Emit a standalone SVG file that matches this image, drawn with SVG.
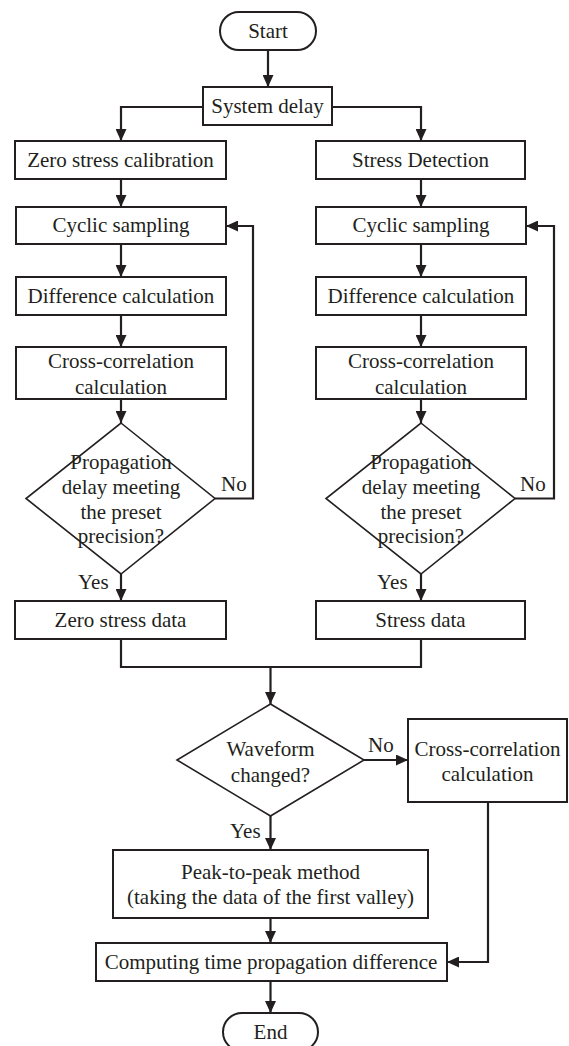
<svg xmlns="http://www.w3.org/2000/svg" width="569" height="1046" viewBox="0 0 569 1046" font-family="Liberation Serif, DejaVu Serif, serif" font-size="21">
<style>
.box{fill:#fff;stroke:#231f20;stroke-width:2}
.dia{fill:#fff;stroke:#231f20;stroke-width:1.6}
text{fill:#231f20}
.t{text-anchor:middle}
.c{fill:none;stroke:#231f20;stroke-width:2.2}
</style>
<defs>
<marker id="ah" viewBox="0 0 12 11" refX="12" refY="5.5" markerWidth="12" markerHeight="11" markerUnits="userSpaceOnUse" orient="auto">
<path d="M0,0 L12,5.5 L0,11 Z" fill="#231f20"/>
</marker>
</defs>
<g id="connectors">
<path class="c" d="M268,50 V87" marker-end="url(#ah)"/>
<path class="c" d="M203,107 H121 V141" marker-end="url(#ah)"/>
<path class="c" d="M332,107 H421 V141" marker-end="url(#ah)"/>
<path class="c" d="M121,179 V207" marker-end="url(#ah)"/>
<path class="c" d="M121,244 V277" marker-end="url(#ah)"/>
<path class="c" d="M121,315 V347" marker-end="url(#ah)"/>
<path class="c" d="M121,399 V423" marker-end="url(#ah)"/>
<path class="c" d="M121,574 V601" marker-end="url(#ah)"/>
<path class="c" d="M215,498.5 H253 V226 H226" marker-end="url(#ah)"/>
<path class="c" d="M421,179 V207" marker-end="url(#ah)"/>
<path class="c" d="M421,244 V277" marker-end="url(#ah)"/>
<path class="c" d="M421,315 V347" marker-end="url(#ah)"/>
<path class="c" d="M421,399 V423" marker-end="url(#ah)"/>
<path class="c" d="M421,574 V601" marker-end="url(#ah)"/>
<path class="c" d="M515,498.5 H554 V226 H526" marker-end="url(#ah)"/>
<path class="c" d="M121,639 V667 H421 V639"/>
<path class="c" d="M270.5,667 V704" marker-end="url(#ah)"/>
<path class="c" d="M364,760 H408" marker-end="url(#ah)"/>
<path class="c" d="M270.5,816 V850" marker-end="url(#ah)"/>
<path class="c" d="M270.5,918 V943" marker-end="url(#ah)"/>
<path class="c" d="M488,802 V962 H447" marker-end="url(#ah)"/>
<path class="c" d="M270.5,981 V1013" marker-end="url(#ah)"/>
<text x="221" y="491">No</text>
<text x="520" y="491">No</text>
<text x="78" y="589">Yes</text>
<text x="377" y="589">Yes</text>
<text x="368" y="752">No</text>
<text x="230" y="838">Yes</text>
</g>
<g id="start"><rect class="box" x="220" y="12" width="96" height="38" rx="19"/><text class="t" x="268" y="38">Start</text></g>
<g id="system-delay"><rect class="box" x="203" y="87" width="129" height="38"/><text class="t" x="267.5" y="113">System delay</text></g>
<g id="zero-stress-calibration"><rect class="box" x="15" y="141" width="211" height="38"/><text class="t" x="120.5" y="167">Zero stress calibration</text></g>
<g id="cyclic-sampling-left"><rect class="box" x="16" y="207" width="210" height="37"/><text class="t" x="121" y="232">Cyclic sampling</text></g>
<g id="difference-left"><rect class="box" x="16" y="277" width="210" height="38"/><text class="t" x="121" y="303">Difference calculation</text></g>
<g id="crosscorr-left"><rect class="box" x="16" y="347" width="210" height="52"/><text class="t" x="121" y="368">Cross-correlation</text><text class="t" x="121" y="394">calculation</text></g>
<g id="decision-left"><polygon class="dia" points="121,423 215,498.5 121,574 26,498.5"/><text class="t" x="121" y="469">Propagation</text><text class="t" x="121" y="494">delay meeting</text><text class="t" x="121" y="519">the preset</text><text class="t" x="121" y="543">precision?</text></g>
<g id="zero-stress-data"><rect class="box" x="15" y="601" width="211" height="38"/><text class="t" x="120.5" y="627">Zero stress data</text></g>
<g id="stress-detection"><rect class="box" x="316" y="141" width="209" height="38"/><text class="t" x="420.5" y="167">Stress Detection</text></g>
<g id="cyclic-sampling-right"><rect class="box" x="316" y="207" width="210" height="37"/><text class="t" x="421" y="232">Cyclic sampling</text></g>
<g id="difference-right"><rect class="box" x="316" y="277" width="210" height="38"/><text class="t" x="421" y="303">Difference calculation</text></g>
<g id="crosscorr-right"><rect class="box" x="316" y="347" width="210" height="52"/><text class="t" x="421" y="368">Cross-correlation</text><text class="t" x="421" y="394">calculation</text></g>
<g id="decision-right"><polygon class="dia" points="421,423 515,498.5 421,574 326,498.5"/><text class="t" x="421" y="469">Propagation</text><text class="t" x="421" y="494">delay meeting</text><text class="t" x="421" y="519">the preset</text><text class="t" x="421" y="543">precision?</text></g>
<g id="stress-data"><rect class="box" x="316" y="601" width="209" height="38"/><text class="t" x="420.5" y="627">Stress data</text></g>
<g id="waveform-decision"><polygon class="dia" points="270.5,704 364,760 270.5,816 177,760"/><text class="t" x="270.5" y="756">Waveform</text><text class="t" x="270.5" y="782">changed?</text></g>
<g id="crosscorr-final"><rect class="box" x="408" y="719" width="159" height="83"/><text class="t" x="487.5" y="756">Cross-correlation</text><text class="t" x="487.5" y="781">calculation</text></g>
<g id="peak-to-peak"><rect class="box" x="113" y="850" width="315" height="68"/><text class="t" x="270.5" y="879">Peak-to-peak method</text><text class="t" x="270.5" y="904">(taking the data of the first valley)</text></g>
<g id="computing"><rect class="box" x="96" y="943" width="351" height="38"/><text class="t" x="271" y="969">Computing time propagation difference</text></g>
<g id="end"><rect class="box" x="223" y="1013" width="95" height="38" rx="19"/><text class="t" x="270.5" y="1039">End</text></g>
</svg>
